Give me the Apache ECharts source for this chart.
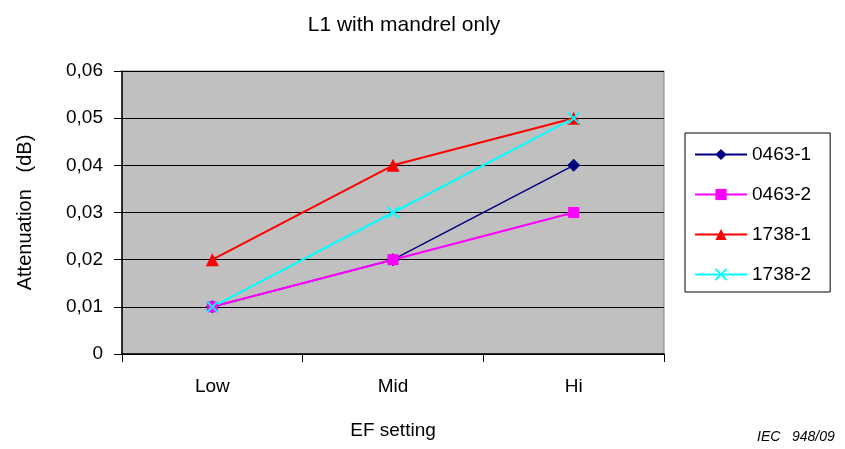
<!DOCTYPE html>
<html>
<head>
<meta charset="utf-8">
<script src="https://cdn.jsdelivr.net/npm/echarts@6/dist/echarts.min.js"></script>
<style>
  html, body { margin: 0; padding: 0; background: #fff; }
  #main { width: 845px; height: 449px; }
</style>
</head>
<body>
<div id="main"></div>
<script>
// categories and values
const categories = ["Low", "Mid", "Hi"];
const s0463_1 = [0.01, 0.02, 0.04];
const s0463_2 = [0.01, 0.02, 0.03];
const s1738_1 = [0.02, 0.04, 0.05];
const s1738_2 = [0.01, 0.03, 0.05];

const font = "Liberation Sans, Arial, sans-serif";
const crossPath = "path://M0,0L10,10M10,0L0,10";

function mkSeries(name, data, color, symbol, size, width) {
  const s = {
    name: name,
    type: "line",
    data: data,
    symbol: symbol,
    symbolSize: size,
    lineStyle: { color: color, width: width },
    itemStyle: { color: color },
    emphasis: { disabled: true },
    animation: false
  };
  if (symbol === crossPath) {
    s.itemStyle = { color: "none", borderColor: color, borderWidth: 2 };
  }
  return s;
}

let myChart = echarts.init(document.getElementById("main"));
myChart.setOption({
  backgroundColor: "#fff",
  textStyle: { fontFamily: font },
  title: {
    text: "L1 with mandrel only",
    left: 399,
    textAlign: "center",
    top: 10,
    textStyle: { fontSize: 21, fontWeight: "normal", color: "#000", fontFamily: font }
  },
  grid: {
    left: 122, right: 181, top: 71, bottom: 95,
    show: true, backgroundColor: "#C0C0C0", borderColor: "#808080", borderWidth: 1
  },
  legend: {
    orient: "vertical",
    left: 685,
    top: 133,
    itemWidth: 52,
    itemHeight: 14,
    itemGap: 21,
    padding: [12, 19, 8, 9],
    borderColor: "#000",
    borderWidth: 1,
    backgroundColor: "#fff",
    textStyle: { fontSize: 19, lineHeight: 19, color: "#000", fontFamily: font },
    data: ["0463-1", "0463-2", "1738-1", "1738-2"]
  },
  xAxis: {
    type: "category",
    data: categories,
    name: "EF setting",
    nameLocation: "middle",
    nameGap: 67,
    nameTextStyle: { fontSize: 19, color: "#000" },
    axisLine: { lineStyle: { color: "#000", width: 1.5 } },
    axisTick: { show: true, length: 8, lineStyle: { color: "#000" } },
    axisLabel: { fontSize: 19, color: "#000", margin: 23 }
  },
  yAxis: {
    type: "value",
    min: 0, max: 0.06, interval: 0.01,
    name: "Attenuation   (dB)",
    nameLocation: "middle",
    nameGap: 87,
    nameTextStyle: { fontSize: 20, color: "#000" },
    axisLine: { show: true, lineStyle: { color: "#000", width: 1.5 } },
    axisTick: { show: true, length: 8, lineStyle: { color: "#000" } },
    splitLine: { show: true, lineStyle: { color: "#000", width: 1 } },
    axisLabel: {
      fontSize: 19, color: "#000", margin: 19,
      formatter: function (v) { return v === 0 ? "0" : v.toFixed(2).replace(".", ","); }
    }
  },
  graphic: [{
    type: "text",
    left: 757,
    top: 430,
    style: { text: "IEC   948/09", font: "italic 14px " + font, fill: "#000" }
  }],
  series: [
    mkSeries("0463-1", s0463_1, "#000080", "diamond", 13, 1.5),
    mkSeries("0463-2", s0463_2, "#FF00FF", "rect", 11, 2),
    mkSeries("1738-1", s1738_1, "#FF0000", "triangle", 13, 2),
    mkSeries("1738-2", s1738_2, "#00FFFF", crossPath, 11, 2)
  ]
});
</script>
</body>
</html>
